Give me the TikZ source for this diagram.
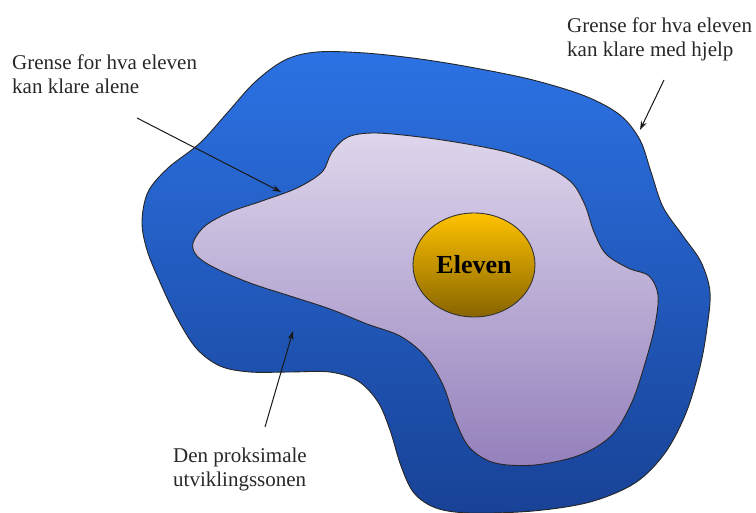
\documentclass[tikz,border=0pt]{standalone}
\usepackage{fontspec}
\setmainfont{Liberation Serif}
\usetikzlibrary{arrows.meta,shapes.geometric}
\definecolor{blueTop}{RGB}{44,114,228}
\definecolor{blueBot}{RGB}{24,66,150}
\definecolor{lavTop}{RGB}{222,214,236}
\definecolor{lavBot}{RGB}{148,128,188}
\definecolor{yelTop}{RGB}{255,194,0}
\definecolor{yelBot}{RGB}{135,100,0}
\definecolor{txt}{RGB}{40,40,40}
\tikzset{
  outerzone/.style={draw=black!85, line width=0.9pt, top color=blueTop, bottom color=blueBot},
  innerzone/.style={draw=black!85, line width=0.9pt, top color=lavTop, bottom color=lavBot},
  pupil/.style={ellipse, draw=black!80, line width=0.9pt, top color=yelTop, bottom color=yelBot,
     minimum width=122pt, minimum height=104pt, inner sep=0pt,
     font=\fontsize{26}{30}\selectfont\bfseries},
  lbl/.style={anchor=north west, align=left, inner sep=0pt, text=txt,
     font=\fontsize{21}{24}\selectfont},
  arr/.style={draw=black!90, line width=1pt, -{Stealth[length=9pt,width=6pt]}}
}
\begin{document}
\begin{tikzpicture}[x=1pt,y=-1pt]
\useasboundingbox (0,0) rectangle (756,513);
% outer zone
\path[outerzone] plot[smooth cycle, tension=0.55] coordinates {
 (142,222) (148,192) (168,168) (200,143) (228,112) (255,82) (285,60)
 (317,52) (365,53) (420,59) (475,68) (533,80) (585,96) (620,115)
 (640,140) (651,172) (663,207) (683,236) (701,262) (710,292) (707,328)
 (700,367) (686,413) (665,453) (635,483) (590,502) (533,511) (470,513)
 (436,508) (414,493) (401,466) (390,430) (378,402) (358,381) (330,372)
 (290,372) (250,372) (220,366) (196,348) (176,316) (159,280) (147,250)};
% inner zone
\path[innerzone] plot[smooth cycle, tension=0.55] coordinates {
 (193,243) (205,226) (230,212) (262,201) (297,188) (322,172) (332,152)
 (348,137) (375,133) (420,137) (467,144) (510,153) (548,167) (572,183)
 (585,205) (594,232) (606,254) (628,268) (649,276) (658,295) (655,325)
 (646,360) (632,402) (612,435) (580,455) (535,465) (495,463) (470,448)
 (456,422) (443,385) (425,356) (400,336) (367,324) (330,309) (290,296)
 (250,283) (215,268) (197,256)};
% pupil
\node[pupil] (eleven) at (474,265) {Eleven};
% labels
\node[lbl] (alene) at (12,54.5) {Grense for hva eleven\\kan klare alene};
\node[lbl] (hjelp) at (567,17.5) {Grense for hva eleven\\kan klare med hjelp};
\node[lbl] (sone) at (173,447.5) {Den proksimale\\utviklingssonen};
% arrow ends
\coordinate (a1s) at (137,118);
\coordinate (a1e) at (281,192);
\coordinate (a2s) at (664,80);
\coordinate (a2e) at (640,130);
\coordinate (a3s) at (265,427);
\coordinate (a3e) at (293,331);
\draw[arr] (a1s) -- (a1e);
\draw[arr] (a2s) -- (a2e);
\draw[arr] (a3s) -- (a3e);
\end{tikzpicture}
\end{document}
